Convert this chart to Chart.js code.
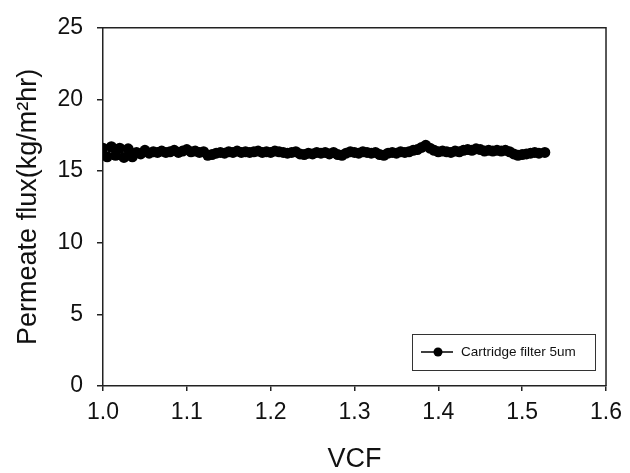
<!DOCTYPE html>
<html>
<head>
<meta charset="utf-8">
<script src="https://cdn.jsdelivr.net/npm/chart.js@4.4.1/dist/chart.umd.min.js"></script>
<style>
  html, body { margin: 0; padding: 0; background: #fff; }
  #wrap { width: 630px; height: 473px; }
</style>
</head>
<body>
<div id="wrap"><canvas id="flux-chart" width="630" height="473"></canvas></div>
<script>
// VCF values (x) and permeate flux (y)
const vcf = [
  1.000, 1.005, 1.010, 1.015, 1.020, 1.025, 1.030, 1.035, 1.040, 1.045,
  1.050, 1.055, 1.060, 1.065, 1.070, 1.075, 1.080, 1.085, 1.090, 1.095,
  1.100, 1.105, 1.110, 1.115, 1.120, 1.125, 1.130, 1.135, 1.140, 1.145,
  1.150, 1.155, 1.160, 1.165, 1.170, 1.175, 1.180, 1.185, 1.190, 1.195,
  1.200, 1.205, 1.210, 1.215, 1.220, 1.225, 1.230, 1.235, 1.240, 1.245,
  1.250, 1.255, 1.260, 1.265, 1.270, 1.275, 1.280, 1.285, 1.290, 1.295,
  1.300, 1.305, 1.310, 1.315, 1.320, 1.325, 1.330, 1.335, 1.340, 1.345,
  1.350, 1.355, 1.360, 1.365, 1.370, 1.375, 1.380, 1.385, 1.390, 1.395,
  1.400, 1.405, 1.410, 1.415, 1.420, 1.425, 1.430, 1.435, 1.440, 1.445,
  1.450, 1.455, 1.460, 1.465, 1.470, 1.475, 1.480, 1.485, 1.490, 1.495,
  1.500, 1.505, 1.510, 1.515, 1.520, 1.527
];
const flux = [
  16.6, 16.0, 16.7, 16.1, 16.6, 15.95, 16.55, 16.0, 16.3, 16.2,
  16.45, 16.25, 16.35, 16.3, 16.4, 16.3, 16.35, 16.45, 16.3, 16.4,
  16.5, 16.35, 16.4, 16.3, 16.35, 16.1, 16.15, 16.25, 16.3, 16.25,
  16.35, 16.3, 16.4, 16.3, 16.35, 16.3, 16.35, 16.4, 16.3, 16.35,
  16.3, 16.4, 16.35, 16.3, 16.25, 16.3, 16.35, 16.2, 16.15, 16.25,
  16.2, 16.3, 16.25, 16.3, 16.2, 16.3, 16.15, 16.1, 16.25, 16.35,
  16.3, 16.25, 16.35, 16.3, 16.25, 16.3, 16.15, 16.1, 16.25, 16.3,
  16.25, 16.35, 16.3, 16.35, 16.45, 16.5, 16.65, 16.8, 16.6, 16.45,
  16.35, 16.4, 16.35, 16.3, 16.4, 16.35, 16.45, 16.5, 16.45, 16.55,
  16.5, 16.4, 16.45, 16.4, 16.45, 16.4, 16.45, 16.35, 16.2, 16.1,
  16.15, 16.2, 16.25, 16.3, 16.25, 16.3
];
const seriesLabel = 'Cartridge filter 5um';
const xTicks = [1.0, 1.1, 1.2, 1.3, 1.4, 1.5, 1.6];
const yTicks = [0, 5, 10, 15, 20, 25];
const xTitle = 'VCF';
const yTitle = 'Permeate flux(kg/m\u00B2hr)';

const FONT = "'Liberation Sans', Arial, sans-serif";

// frame on top and right of the plot
const frame = {
  id: 'frame',
  afterDraw(chart) {
    const { ctx, chartArea: a } = chart;
    ctx.save();
    ctx.strokeStyle = '#222';
    ctx.lineWidth = 1.5;
    ctx.beginPath();
    ctx.moveTo(a.left, a.top);
    ctx.lineTo(a.right, a.top);
    ctx.lineTo(a.right, a.bottom);
    ctx.stroke();
    ctx.restore();
  }
};

// legend box inside the plot, lower right
const boxLegend = {
  id: 'boxLegend',
  afterDraw(chart) {
    const { ctx } = chart;
    const ds = chart.data.datasets[0];
    ctx.save();
    ctx.fillStyle = '#fff';
    ctx.fillRect(412, 334, 183, 36);
    ctx.strokeStyle = '#333';
    ctx.lineWidth = 1;
    ctx.strokeRect(412.5, 334.5, 183, 36);
    ctx.strokeStyle = '#000';
    ctx.lineWidth = 1.5;
    ctx.beginPath();
    ctx.moveTo(421, 352);
    ctx.lineTo(453, 352);
    ctx.stroke();
    ctx.fillStyle = '#000';
    ctx.beginPath();
    ctx.arc(438, 352, 4.5, 0, Math.PI * 2);
    ctx.fill();
    ctx.font = '13.5px ' + FONT;
    ctx.textBaseline = 'middle';
    ctx.fillStyle = '#111';
    ctx.fillText(ds.label, 461, 352);
    ctx.restore();
  }
};

const points = vcf.map((v, i) => ({ x: v, y: flux[i] }));

new Chart(document.querySelector('#flux-chart'), {
  type: 'line',
  data: {
    datasets: [{
      label: seriesLabel,
      data: points,
      borderColor: '#000',
      backgroundColor: '#000',
      borderWidth: 2.5,
      pointRadius: 5.5,
      pointBorderWidth: 0,
      pointBackgroundColor: '#000',
      tension: 0
    }]
  },
  options: {
    responsive: false,
    animation: false,
    devicePixelRatio: 1,
    layout: { padding: { left: 0, top: 22, right: 20, bottom: 0 } },
    plugins: {
      legend: { display: false },
      tooltip: { enabled: false }
    },
    scales: {
      x: {
        type: 'linear',
        min: 1.0,
        max: 1.6,
        afterBuildTicks: (scale) => { scale.ticks = xTicks.map(v => ({ value: v })); },
        afterFit: (scale) => { scale.height = 87; },
        border: { display: true, color: '#222', width: 1.5 },
        grid: { drawOnChartArea: false, drawTicks: true, tickLength: 5, color: '#222', lineWidth: 1.5 },
        ticks: {
          color: '#111',
          padding: 8,
          maxRotation: 0,
          font: { family: FONT, size: 23 },
          callback: (v) => Number(v).toFixed(1)
        },
        title: {
          display: true,
          text: xTitle,
          color: '#111',
          font: { family: FONT, size: 27, lineHeight: 1.0 },
          padding: { top: 0, bottom: 0 }
        }
      },
      y: {
        min: 0,
        max: 25,
        afterBuildTicks: (scale) => { scale.ticks = yTicks.map(v => ({ value: v })); },
        afterFit: (scale) => { scale.width = 103; },
        border: { display: true, color: '#222', width: 1.5 },
        grid: { drawOnChartArea: false, drawTicks: true, tickLength: 6, color: '#222', lineWidth: 1.5 },
        ticks: {
          color: '#111',
          padding: 14,
          font: { family: FONT, size: 23 }
        },
        title: {
          display: true,
          text: yTitle,
          color: '#111',
          font: { family: FONT, size: 27, lineHeight: 1.2 },
          padding: { top: 12, bottom: 0 }
        }
      }
    }
  },
  plugins: [frame, boxLegend]
});
</script>
</body>
</html>
